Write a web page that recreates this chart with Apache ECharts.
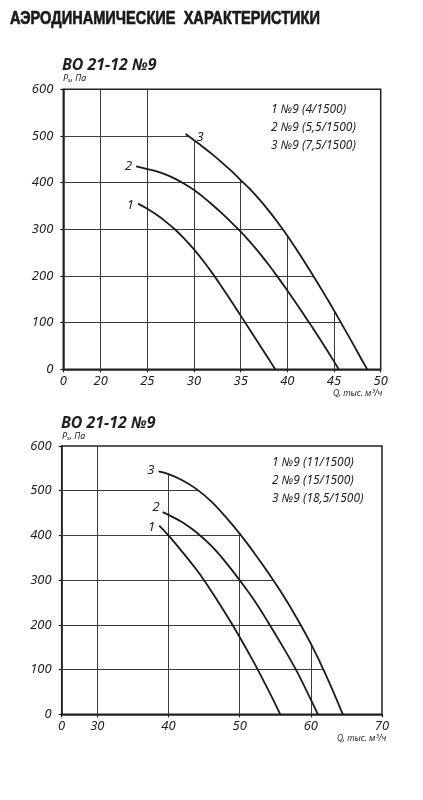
<!DOCTYPE html>
<html>
<head>
<meta charset="utf-8">
<script src="https://cdn.jsdelivr.net/npm/echarts@6/dist/echarts.min.js"></script>
<style>
html,body{margin:0;padding:0;background:#fff;}
#c{width:423px;height:800px;}
</style>
</head>
<body>
<div id="c"></div>
<script>
// ---------- DATA ----------
const mainTitle = 'АЭРОДИНАМИЧЕСКИЕ  ХАРАКТЕРИСТИКИ';
const subTitle = 'ВО 21-12 №9';
const yUnit = ['P', 's', ', Па'];
const xUnit = 'Q, тыс. м³/ч';

// top chart
const legendTop = ['1 №9 (4/1500)', '2 №9 (5,5/1500)', '3 №9 (7,5/1500)'];
const xTickValuesTop = [16, 20, 25, 30, 35, 40, 45, 50];
const xTickLabelsTop = ['0', '20', '25', '30', '35', '40', '45', '50'];
const curve1Top = [[24,355],[25,344],[26,331],[27,316],[28,299],[29,279],[30,257],[31,232],[32,205],[33,176],[34,146],[35,115],[36,84],[37,53],[38,22],[38.7,0]];
const curve2Top = [[23.8,435],[25,429],[26,424],[27,417],[28,408],[29,397],[30,384],[31,369],[32,352],[33,334],[34,315],[35,295],[36,273],[37,249.5],[38,224],[39,197],[40,169],[41,140],[42,110],[43,80],[44,49],[45,17],[45.5,0]];
const curve3Top = [[29.1,504],[30,491],[31,476],[32,460],[33,443],[34,425],[35,405.5],[36,386],[37,364],[38,340],[39,314],[40,286],[41,256],[42,225],[43,193],[44,160],[45,126],[46,91],[47,55.5],[48,19.5],[48.55,0]];

// bottom chart
const legendBottom = ['1 №9 (11/1500)', '2 №9 (15/1500)', '3 №9 (18,5/1500)'];
const xTickValuesBottom = [25, 30, 40, 50, 60, 70];
const xTickLabelsBottom = ['0', '30', '40', '50', '60', '70'];
const curve1Bottom = [[38.7,422],[40,400],[42,362],[44,322],[46,276],[48,226],[50,173],[52,116],[54,55],[55.7,0]];
const curve2Bottom = [[39.2,452],[40,446],[42,429],[44,406],[46,377],[48,341],[50,300],[52,256],[54,206],[56,153],[58,97],[60,33],[61,0]];
const curve3Bottom = [[38.6,543],[40,537],[42,523],[44,503],[46,476],[48,442],[50,404],[52,362],[54,317],[56,269],[58,216],[60,158],[62,92],[64.5,0]];

const yTicks = [0, 100, 200, 300, 400, 500, 600];
const curveNames = ['1', '2', '3'];

// ---------- HELPERS ----------
const INK = '#231f20';
const GRIDC = '#3c3c3c';
const ITAL = "'Noto Sans', 'DejaVu Sans', sans-serif";
const TITLE_FONT = "'Liberation Sans', Arial, sans-serif";

function valAt(curve, x) {
  for (let i = 0; i < curve.length - 1; i++) {
    const a = curve[i], b = curve[i + 1];
    if (x >= a[0] && x <= b[0]) return a[1] + (b[1] - a[1]) * (x - a[0]) / (b[0] - a[0]);
  }
  return null;
}
function crossX(curve, p) {
  for (let i = 0; i < curve.length - 1; i++) {
    const a = curve[i], b = curve[i + 1];
    if (p <= a[1] && p >= b[1]) return a[0] + (b[0] - a[0]) * (a[1] - p) / (a[1] - b[1]);
  }
  return null;
}
function gridSegments(ticksX, outer, ymax) {
  const xmin = ticksX[0], xmax = ticksX[ticksX.length - 1];
  const segs = [];
  ticksX.slice(1, -1).forEach(function (x) {
    const top = x < outer[0][0] ? ymax : valAt(outer, x);
    segs.push({ coords: [[x, 0], [x, top]] });
  });
  yTicks.slice(1, -1).forEach(function (p) {
    const right = p > outer[0][1] ? xmax : crossX(outer, p);
    segs.push({ coords: [[xmin, p], [right, p]] });
  });
  return segs;
}

const labelCfgTop = [
  { position: 'left', distance: 4, offset: [0, 2] },
  { position: 'left', distance: 4, offset: [0, 0] },
  { position: 'right', distance: 11, offset: [0, 3] }
];
const labelCfgBottom = [
  { position: 'left', distance: 4, offset: [0, 2] },
  { position: 'left', distance: 3, offset: [0, -5] },
  { position: 'left', distance: 4, offset: [0, -1] }
];

function curveSeries(curve, idx, gi, cfg) {
  const data = curve.map(function (pt, i) {
    if (i === 0) {
      return {
        value: pt,
        label: {
          show: true, formatter: curveNames[idx], position: cfg.position, distance: cfg.distance,
          offset: cfg.offset, color: INK, fontSize: 13, fontStyle: 'italic', fontWeight: 'normal', fontFamily: ITAL
        }
      };
    }
    return pt;
  });
  return {
    type: 'line', xAxisIndex: gi, yAxisIndex: gi, data: data, smooth: 0.4,
    symbol: 'circle', symbolSize: 0, showSymbol: true, silent: true, z: 5,
    lineStyle: { color: '#1a1a1a', width: 1.8 }, itemStyle: { color: '#1a1a1a' }
  };
}

function xAxisCfg(gi, ticks, labels) {
  return {
    type: 'value', gridIndex: gi, min: ticks[0], max: ticks[ticks.length - 1],
    axisLine: { show: true, lineStyle: { color: INK, width: 1.5 } },
    axisTick: { show: true, customValues: ticks, length: 3, lineStyle: { color: INK, width: 1.2 } },
    axisLabel: {
      customValues: ticks, margin: 5, color: INK, fontSize: 13, fontStyle: 'italic', fontFamily: ITAL,
      formatter: function (v) { const k = ticks.indexOf(v); return k >= 0 ? labels[k] : ''; }
    },
    splitLine: { show: false }
  };
}
function yAxisCfg(gi) {
  return {
    type: 'value', gridIndex: gi, min: yTicks[0], max: yTicks[yTicks.length - 1], interval: 100,
    axisLine: { show: true, lineStyle: { color: INK, width: 1.5 } },
    axisTick: { show: true, length: 3, lineStyle: { color: INK, width: 1.2 } },
    axisLabel: { margin: 10, color: INK, fontSize: 13, fontStyle: 'italic', fontFamily: ITAL },
    splitLine: { show: false }
  };
}
function txt(text, left, top, style) {
  return { text: text, left: left, top: top, padding: 0, itemGap: 0,
    textStyle: Object.assign({ color: INK, fontFamily: ITAL, fontWeight: 'normal' }, style) };
}
const unitRich = {
  p: { fontSize: 9, fontStyle: 'italic', fontWeight: 'normal', fontFamily: ITAL, color: INK },
  s: { fontSize: 6, fontStyle: 'italic', fontWeight: 'normal', fontFamily: ITAL, color: INK, verticalAlign: 'bottom', padding: [4, 0, 0, 0] }
};
function unitTitle(left, top) {
  return {
    text: '{p|' + yUnit[0] + '}{s|' + yUnit[1] + '}{p|' + yUnit[2] + '}', left: left, top: top, padding: 0,
    textStyle: { rich: unitRich, fontWeight: 'normal' }
  };
}

// fit main title into its width (condensed look)
const mctx = document.createElement('canvas').getContext('2d');
mctx.font = 'bold 19px ' + TITLE_FONT;
const titleScaleX = 310 / mctx.measureText(mainTitle).width;

const chart = echarts.init(document.getElementById('c'), null, { renderer: 'canvas' });
chart.setOption({
  animation: false,
  backgroundColor: '#fff',
  graphic: [{
    type: 'text', x: 10, y: 18.5, scaleX: titleScaleX, silent: true,
    style: {
      text: mainTitle, fill: '#1a1a1a', stroke: '#1a1a1a', lineWidth: 0.7,
      font: 'bold 19px ' + TITLE_FONT, textVerticalAlign: 'middle', textAlign: 'left'
    }
  }],
  title: [
    txt(subTitle, 62, 56, { fontSize: 16, fontWeight: 'bold', fontStyle: 'italic', lineHeight: 18 }),
    unitTitle(63, 73),
    txt(xUnit, 333, 389, { fontSize: 8.5, fontStyle: 'italic', lineHeight: 10 }),
    txt(legendTop.join('\n'), 271, 101, { fontSize: 12, fontStyle: 'italic', lineHeight: 17.8 }),
    txt(subTitle, 61, 414, { fontSize: 16, fontWeight: 'bold', fontStyle: 'italic', lineHeight: 18 }),
    unitTitle(62, 431),
    txt(xUnit, 337, 734, { fontSize: 8.5, fontStyle: 'italic', lineHeight: 10 }),
    txt(legendBottom.join('\n'), 272, 454, { fontSize: 12, fontStyle: 'italic', lineHeight: 17.8 })
  ],
  grid: [
    { left: 63.3, right: 42.3, top: 89.3, bottom: 430.7, show: true, borderColor: INK, borderWidth: 1.5, backgroundColor: 'transparent' },
    { left: 61.7, right: 41, top: 446, bottom: 85.7, show: true, borderColor: INK, borderWidth: 1.5, backgroundColor: 'transparent' }
  ],
  xAxis: [xAxisCfg(0, xTickValuesTop, xTickLabelsTop), xAxisCfg(1, xTickValuesBottom, xTickLabelsBottom)],
  yAxis: [yAxisCfg(0), yAxisCfg(1)],
  series: [
    {
      type: 'lines', coordinateSystem: 'cartesian2d', xAxisIndex: 0, yAxisIndex: 0, silent: true, z: 2,
      lineStyle: { color: GRIDC, width: 1, opacity: 1, curveness: 0 },
      data: gridSegments(xTickValuesTop, curve3Top, 600)
    },
    {
      type: 'lines', coordinateSystem: 'cartesian2d', xAxisIndex: 1, yAxisIndex: 1, silent: true, z: 2,
      lineStyle: { color: GRIDC, width: 1, opacity: 1, curveness: 0 },
      data: gridSegments(xTickValuesBottom, curve3Bottom, 600)
    },
    curveSeries(curve1Top, 0, 0, labelCfgTop[0]),
    curveSeries(curve2Top, 1, 0, labelCfgTop[1]),
    curveSeries(curve3Top, 2, 0, labelCfgTop[2]),
    curveSeries(curve1Bottom, 0, 1, labelCfgBottom[0]),
    curveSeries(curve2Bottom, 1, 1, labelCfgBottom[1]),
    curveSeries(curve3Bottom, 2, 1, labelCfgBottom[2])
  ]
});
</script>
</body>
</html>
